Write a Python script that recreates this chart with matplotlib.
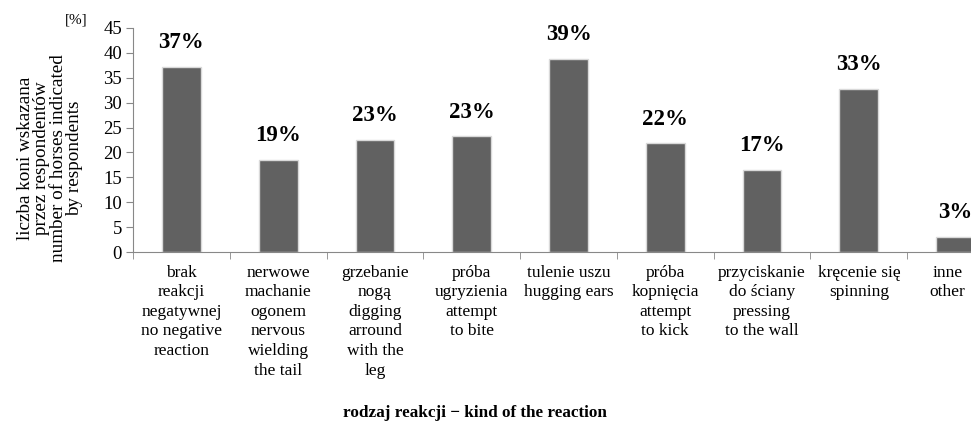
import numpy as np
import matplotlib

matplotlib.use('agg')
from matplotlib import pyplot as plt
from matplotlib.transforms import ScaledTranslation

plt.rcParams['font.family'] = ['Liberation Serif', 'DejaVu Serif']

categories = ['brak\nreakcji\nnegatywnej\nno negative\nreaction',
              'nerwowe\nmachanie\nogonem\nnervous\nwielding\nthe tail',
              'grzebanie\nnogą\ndigging\narround\nwith the\nleg',
              'próba\nugryzienia\nattempt\nto bite',
              'tulenie uszu\nhugging ears',
              'próba\nkopnięcia\nattempt\nto kick',
              'przyciskanie\ndo ściany\npressing\nto the wall',
              'kręcenie się\nspinning',
              'inne\nother']
values = [37.2, 18.5, 22.5, 23.2, 38.8, 21.8, 16.5, 32.7, 3.1]
labels = ['37%', '19%', '23%', '23%', '39%', '22%', '17%', '33%', '3%']
yticks = [0, 5, 10, 15, 20, 25, 30, 35, 40, 45]

fig = plt.figure(figsize=(9.71, 4.21), dpi=100)
ax = fig.add_axes([133 / 971, 0.401, 871 / 971, 0.533])

x = np.arange(len(values))
ax.bar(x, values, width=0.4, color='#616161', edgecolor='#d9d9d9', linewidth=1)

for xi, v, lab in zip(x, values, labels):
    ax.annotate(lab, (xi, v), xytext=(0, 10), textcoords='offset points',
                ha='center', va='bottom', fontsize=16.5, fontweight='bold')

ax.set_xlim(-0.5, len(values) - 0.5)
ax.set_ylim(0, 45)
ax.set_yticks(yticks)
ax.tick_params(axis='y', labelsize=13.5, length=5, color='#888888', pad=3)

ax.set_xticks(x)
ax.set_xticklabels(categories, fontsize=12.5, linespacing=1.3,
                   multialignment='center')
ax.set_xticks(np.arange(len(values) + 1) - 0.5, minor=True)
ax.tick_params(axis='x', which='major', length=0, pad=9)
ax.tick_params(axis='x', which='minor', length=5, color='#888888')

# last label sits clipped at the right edge, nudge it inward
last = ax.get_xticklabels()[-1]
last.set_transform(last.get_transform() + ScaledTranslation(-0.08, 0, fig.dpi_scale_trans))

for s in ['top', 'right']:
    ax.spines[s].set_visible(False)
for s in ['left', 'bottom']:
    ax.spines[s].set_color('#888888')

fig.text(50 / 971, 1 - 158 / 421,
         'liczba koni wskazana\nprzez respondentów\nnumber of horses indicated\nby respondents',
         rotation=90, ha='center', va='center', fontsize=13.8, linespacing=0.94,
         multialignment='center')
fig.text(76 / 971, 1 - 20 / 421, '[%]', ha='center', va='center', fontsize=11)
fig.text(475 / 971, 1 - 413 / 421, 'rodzaj reakcji \u2212 kind of the reaction',
         ha='center', va='center', fontsize=12.3, fontweight='bold')

fig.savefig('out.png', dpi=100)
